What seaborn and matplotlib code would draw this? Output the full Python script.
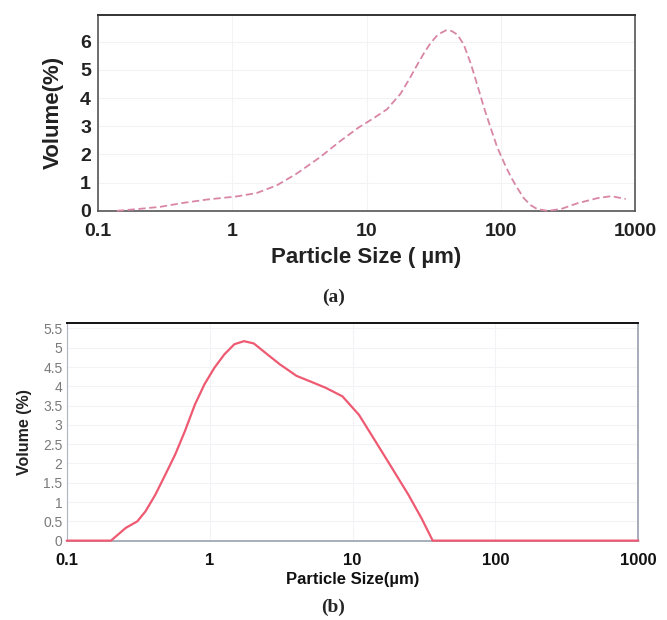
import numpy as np
import pandas as pd
import matplotlib
matplotlib.use('Agg')
import matplotlib.pyplot as plt
import seaborn as sns

# =============================================================================
# DATOS
# =============================================================================
# Panel (a): distribucion granulometrica, linea discontinua
size_a = [0.138, 0.195, 0.29, 0.43, 0.65, 1.08, 1.52, 2.14, 3.0, 4.5, 6.4,
          8.7, 11.0, 14.2, 17.9, 21.0, 24.0, 27.0, 30.0, 34.0, 39.0, 43.0,
          47.5, 53.0, 60.0, 67.0, 75.0, 84.0, 94.0, 106.0, 119.0, 134.0,
          149.0, 167.0, 187.0, 223.0, 280.0, 374.0, 527.0, 665.0, 853.0]
vol_a = [0.0, 0.06, 0.14, 0.28, 0.40, 0.51, 0.63, 0.9, 1.31, 1.9, 2.48,
         2.95, 3.25, 3.6, 4.15, 4.7, 5.2, 5.62, 5.95, 6.25, 6.4, 6.38,
         6.25, 5.9, 5.2, 4.45, 3.66, 2.95, 2.26, 1.7, 1.2, 0.78,
         0.44, 0.2, 0.06, 0.0, 0.06, 0.27, 0.45, 0.52, 0.42]

# Panel (b): distribucion granulometrica, linea continua
size_b = [0.1, 0.15, 0.204, 0.221, 0.259, 0.312, 0.356, 0.417, 0.49, 0.574,
          0.672, 0.79, 0.92, 1.08, 1.27, 1.49, 1.74, 2.04, 2.53, 3.1, 4.06,
          5.27, 6.5, 8.5, 11.1, 14.5, 18.9, 24.6, 30.4, 36.4, 50.0, 200.0, 1000.0]
vol_b = [0.0, 0.0, 0.0, 0.11, 0.33, 0.5, 0.76, 1.19, 1.71, 2.23,
         2.84, 3.53, 4.05, 4.48, 4.83, 5.09, 5.17, 5.11, 4.83, 4.57, 4.27,
         4.1, 3.96, 3.74, 3.26, 2.57, 1.88, 1.19, 0.58, 0.0, 0.0, 0.0, 0.0]

x_ticks = [0.1, 1, 10, 100, 1000]
x_tick_labels = ['0.1', '1', '10', '100', '1000']
y_ticks_a = [0, 1, 2, 3, 4, 5, 6]
y_ticks_b = [0, 0.5, 1, 1.5, 2, 2.5, 3, 3.5, 4, 4.5, 5, 5.5]
y_tick_labels_b = ['0', '0.5', '1', '1.5', '2', '2.5', '3', '3.5', '4', '4.5', '5', '5.5']

df_a = pd.DataFrame({'size': size_a, 'vol': vol_a})
df_b = pd.DataFrame({'size': size_b, 'vol': vol_b})

# =============================================================================
# FIGURA
# =============================================================================
sns.set_style('white')
plt.rcParams['font.family'] = ['Liberation Sans Narrow', 'Liberation Sans', 'DejaVu Sans']

fig = plt.figure(figsize=(6.67, 6.2), dpi=100)
ax_a = fig.add_axes([0.147, 0.660, 0.805, 0.316])
ax_b = fig.add_axes([0.100, 0.128, 0.857, 0.351])

# --- Panel (a) ---
sns.lineplot(data=df_a, x='size', y='vol', ax=ax_a, color='#d986a6',
             linewidth=1.3, linestyle=(0, (4, 2)))
for ln in ax_a.lines:
    ln.set_clip_on(False)
    ln.set_zorder(5)
ax_a.set_xscale('log')
ax_a.set_xlim(0.1, 1000)
ax_a.set_ylim(0, 6.95)
ax_a.set_xticks(x_ticks)
ax_a.set_xticklabels(x_tick_labels)
ax_a.minorticks_off()
ax_a.set_yticks(y_ticks_a)
ax_a.tick_params(axis='y', length=0, pad=5, labelsize=14, labelcolor='#222222')
ax_a.tick_params(axis='x', length=0, pad=9, labelsize=14, labelcolor='#222222')
for lbl in ax_a.get_xticklabels() + ax_a.get_yticklabels():
    lbl.set_fontweight('bold')
ax_a.set_xlabel('Particle Size ( µm)', fontsize=16, fontweight='bold', color='#222222',
                labelpad=5, family=['Liberation Sans', 'DejaVu Sans'])
ax_a.set_ylabel('Volume(%)', fontsize=16, fontweight='bold', color='#222222',
                labelpad=12, family=['Liberation Sans', 'DejaVu Sans'])
ax_a.grid(True, which='both', color='#f3f3f3', linewidth=0.8)
for side in ['left', 'bottom', 'right']:
    ax_a.spines[side].set_color('#555555')
    ax_a.spines[side].set_linewidth(1.2)
ax_a.spines['top'].set_color('#333333')
ax_a.spines['top'].set_linewidth(1.4)

# --- Panel (b) ---
sns.lineplot(data=df_b, x='size', y='vol', ax=ax_b, color='#ee5a72', linewidth=1.6)
for ln in ax_b.lines:
    ln.set_clip_on(False)
    ln.set_zorder(5)
ax_b.set_xscale('log')
ax_b.set_xlim(0.1, 1000)
ax_b.set_ylim(0, 5.64)
ax_b.set_xticks(x_ticks)
ax_b.set_xticklabels(x_tick_labels)
ax_b.minorticks_off()
ax_b.set_yticks(y_ticks_b)
ax_b.set_yticklabels(y_tick_labels_b)
ax_b.tick_params(axis='y', length=0, pad=3, labelsize=10, labelcolor='#7a7a7a')
ax_b.tick_params(axis='x', length=0, pad=9, labelsize=12, labelcolor='#111111')
for lbl in ax_b.get_xticklabels():
    lbl.set_fontweight('bold')
ax_b.set_xlabel('Particle Size(µm)', fontsize=12, fontweight='bold', color='#111111', labelpad=3)
ax_b.set_ylabel('Volume (%)', fontsize=11.5, fontweight='bold', color='#222222', labelpad=8,
                family=['Liberation Sans', 'DejaVu Sans'])
ax_b.grid(True, which='both', color='#f2f2f7', linewidth=0.8)
ax_b.spines['top'].set_color('#111111')
ax_b.spines['top'].set_linewidth(1.4)
ax_b.spines['right'].set_color('#9aa0b0')
ax_b.spines['right'].set_linewidth(1.2)
ax_b.spines['left'].set_color('#b0b4c0')
ax_b.spines['bottom'].set_color('#9aa0b0')
ax_b.spines['bottom'].set_linewidth(1.2)

# --- Etiquetas de los paneles ---
fig.text(0.5, 1 - 297 / 620, '(a)', ha='center', va='center', fontsize=14,
         fontweight='bold', family=['Liberation Serif', 'DejaVu Serif'])
fig.text(0.5, 1 - 607 / 620, '(b)', ha='center', va='center', fontsize=14,
         fontweight='bold', family=['Liberation Serif', 'DejaVu Serif'])

plt.savefig('out.png', dpi=100)
plt.close()
